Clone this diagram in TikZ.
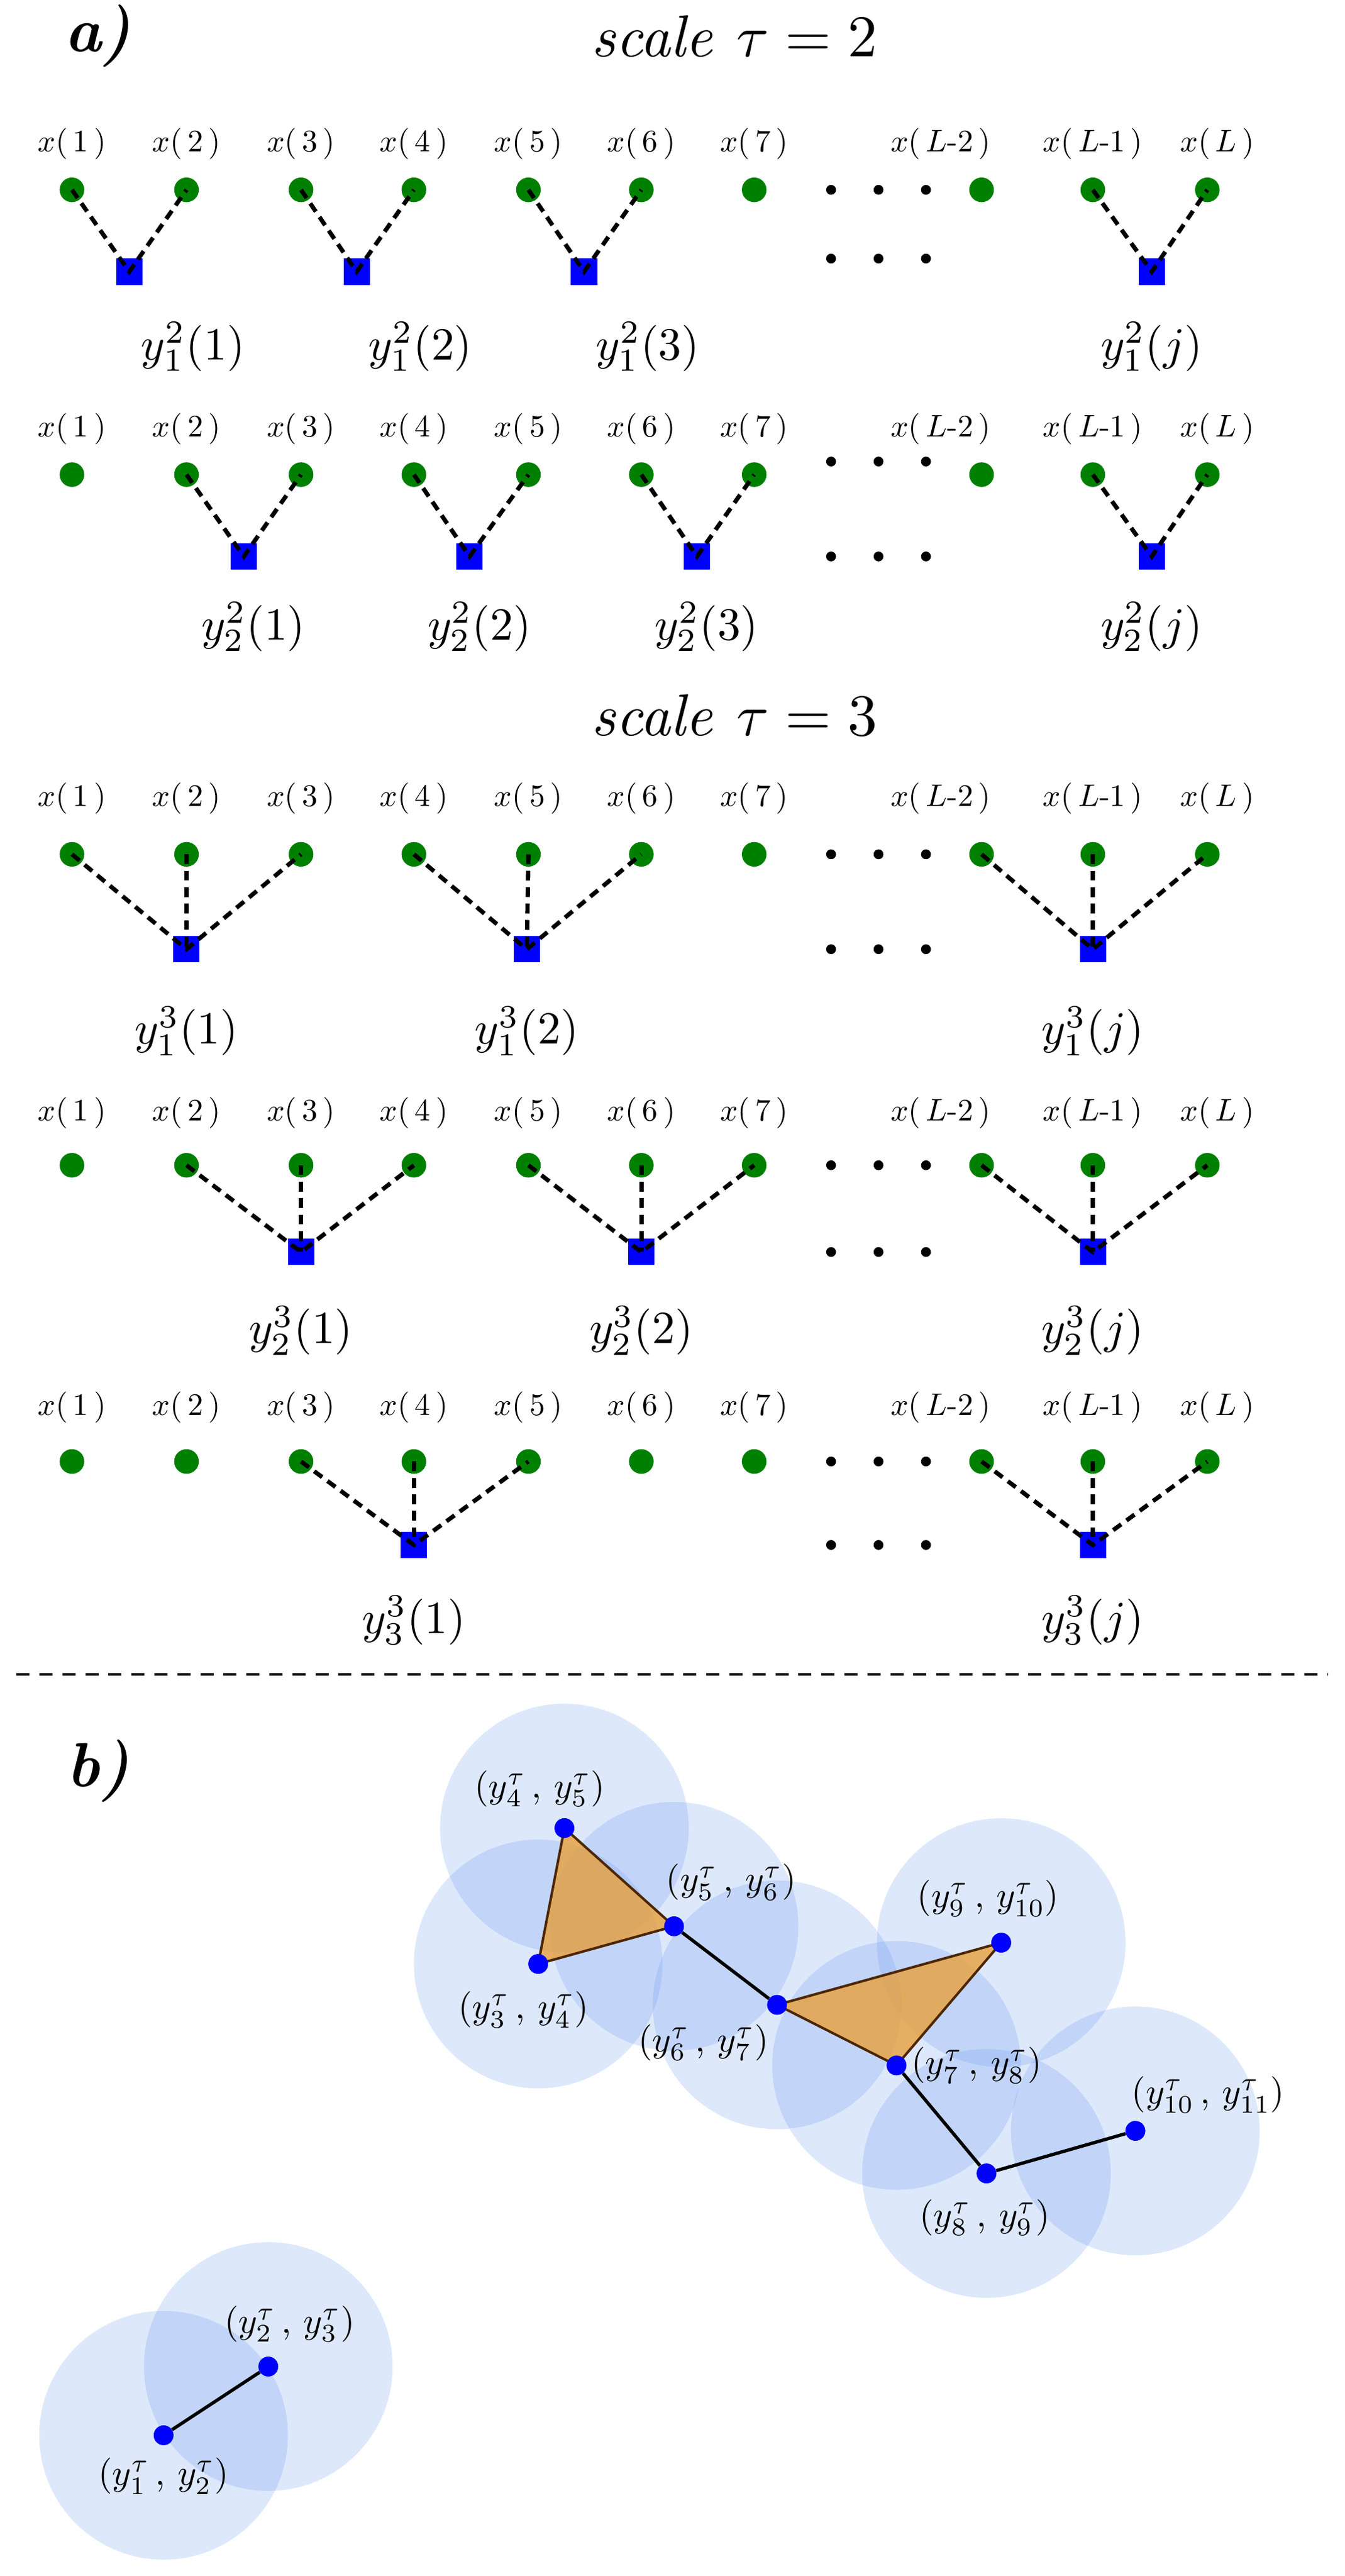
\documentclass[tikz,border=0pt]{standalone}
\usepackage{amsmath}
\begin{document}
\begin{tikzpicture}[x=0.35mm,y=-0.35mm,
 g/.style={circle,fill=green!50!black,inner sep=0,minimum size=15},
 sq/.style={rectangle,fill=blue,inner sep=0,minimum size=16},
 xl/.style={font=\normalsize,scale=1.9},
 yl/.style={font=\normalsize,scale=2.8},
 con/.style={line width=2.6pt,dash pattern=on 6pt off 4pt},
 ed/.style={circle,fill=black,inner sep=0,minimum size=6},
 bp/.style={circle,fill=blue,inner sep=0,minimum size=12},
 bl/.style={font=\normalsize,scale=2.2},
 ttl/.style={font=\normalsize,scale=3.6},
 lab/.style={font=\normalsize\bfseries\itshape,scale=3.8},
 halo/.style={fill={rgb,255:red,100;green,149;blue,237},opacity=0.22},
 tri/.style={fill={rgb,255:red,232;green,160;blue,60},fill opacity=0.8,draw=black!70!orange,line width=1.5pt}]
\useasboundingbox (0,0) rectangle (822,1574);
\node[lab] (ta) at (60,22) {a)};
\node[ttl] (t2) at (449,22) {$\mathit{scale}\ \tau=2$};
\node[ttl] (t3) at (449,437) {$\mathit{scale}\ \tau=3$};
\foreach \r/\ly/\dy in {r1/88/116,r2/262/290,r3/488/522,r4/680/712,r5/860/893}{
 \foreach \i/\xx in {1/44,2/114,3/184,4/253,5/323,6/392,7/461}{
  \node[g] (\r-\i) at (\xx,\dy) {};
  \node[xl] (\r-l\i) at (\xx,\ly) {$x(\,\i\,)$};
 }
 \node[g] (\r-a) at (600,\dy) {};
 \node[g] (\r-b) at (668,\dy) {};
 \node[g] (\r-c) at (738,\dy) {};
 \node[xl] (\r-la) at (575,\ly) {$x(\,L\text{-}2\,)$};
 \node[xl] (\r-lb) at (668,\ly) {$x(\,L\text{-}1\,)$};
 \node[xl] (\r-lc) at (744,\ly) {$x(\,L\,)$};
}
\foreach \n/\ya/\yb in {e1/116/158,e2/282/340,e3/522/580,e4/712/765,e5/893/944}{
 \foreach \k/\xx in {1/508,2/537,3/566}{
  \node[ed] (\n a\k) at (\xx,\ya) {};
  \node[ed] (\n b\k) at (\xx,\yb) {};
 }
}
\foreach \s/\xx/\a/\b/\t in {1/79/1/2/1,2/218/3/4/2,3/357/5/6/3}{
 \node[sq] (s1-\s) at (\xx,166) {};
 \draw[con] (r1-\a.center) -- (s1-\s.center) -- (r1-\b.center);
 \node[yl] (y1-\s) at (\xx+39,212) {$y_1^2(\t)$};
}
\node[sq] (s1-j) at (704,166) {};
\draw[con] (r1-b.center) -- (s1-j.center) -- (r1-c.center);
\node[yl] (y1-j) at (704,212) {$y_1^2(j)$};
\foreach \s/\xx/\a/\b in {1/149/2/3,2/287/4/5,3/426/6/7}{
 \node[sq] (s2-\s) at (\xx,340) {};
 \draw[con] (r2-\a.center) -- (s2-\s.center) -- (r2-\b.center);
 \node[yl] (y2-\s) at (\xx+6,383) {$y_2^2(\s)$};
}
\node[sq] (s2-j) at (704,340) {};
\draw[con] (r2-b.center) -- (s2-j.center) -- (r2-c.center);
\node[yl] (y2-j) at (704,383) {$y_2^2(j)$};
\foreach \s/\xx/\a/\b/\c in {1/114/1/2/3,2/322/4/5/6,j/668/a/b/c}{
 \node[sq] (s3-\s) at (\xx,580) {};
 \draw[con] (r3-\a.center) -- (s3-\s.center) -- (r3-\c.center);
 \draw[con] (r3-\b.center) -- (s3-\s.center);
 \node[yl] (y3-\s) at (\xx,630) {$y_1^3(\s)$};
}
\foreach \s/\xx/\a/\b/\c in {1/184/2/3/4,2/392/5/6/7,j/668/a/b/c}{
 \node[sq] (s4-\s) at (\xx,765) {};
 \draw[con] (r4-\a.center) -- (s4-\s.center) -- (r4-\c.center);
 \draw[con] (r4-\b.center) -- (s4-\s.center);
 \node[yl] (y4-\s) at (\xx,813) {$y_2^3(\s)$};
}
\foreach \s/\xx/\a/\b/\c in {1/253/3/4/5,j/668/a/b/c}{
 \node[sq] (s5-\s) at (\xx,944) {};
 \draw[con] (r5-\a.center) -- (s5-\s.center) -- (r5-\c.center);
 \draw[con] (r5-\b.center) -- (s5-\s.center);
 \node[yl] (y5-\s) at (\xx,990) {$y_3^3(\s)$};
}
\coordinate (d1) at (10,1023); \coordinate (d2) at (812,1023);
\draw[line width=1.5pt,dash pattern=on 8pt off 6pt] (d1) -- (d2);
\node[lab] (tb) at (60,1082) {b)};
\foreach \n/\xx/\yy in {p45/345/1117,p56/412/1177,p34/329/1200,p67/475/1225,p78/548/1262,p910/612/1187,p89/603/1328,p1011/694/1302,p23/164/1446,p12/100/1488}{
 \fill[halo] (\xx,\yy) circle (76);
}
\foreach \n/\xx/\yy in {p45/345/1117,p56/412/1177,p34/329/1200,p67/475/1225,p78/548/1262,p910/612/1187,p89/603/1328,p1011/694/1302,p23/164/1446,p12/100/1488}{
 \node[bp] (\n) at (\xx,\yy) {};
}
\draw[tri] (p45.center) -- (p56.center) -- (p34.center) -- cycle;
\draw[tri] (p67.center) -- (p910.center) -- (p78.center) -- cycle;
\draw[line width=2pt] (p56) -- (p67) (p78) -- (p89) -- (p1011) (p12) -- (p23);
\foreach \n in {p45,p56,p34,p67,p78,p910,p89,p1011,p23,p12}{\node[bp] at (\n) {};}
\node[bl] (l45) at (330,1093) {$(y_4^\tau\,,\,y_5^\tau)$};
\node[bl] (l56) at (447,1150) {$(y_5^\tau\,,\,y_6^\tau)$};
\node[bl] (l34) at (320,1228) {$(y_3^\tau\,,\,y_4^\tau)$};
\node[bl] (l67) at (430,1248) {$(y_6^\tau\,,\,y_7^\tau)$};
\node[bl] (l78) at (597,1262) {$(y_7^\tau\,,\,y_8^\tau)$};
\node[bl] (l910) at (604,1160) {$(y_9^\tau\,,\,y_{10}^\tau)$};
\node[bl] (l89) at (602,1355) {$(y_8^\tau\,,\,y_9^\tau)$};
\node[bl,anchor=west] (l1011) at (684,1280) {$(y_{10}^\tau\,,\,y_{11}^\tau)$};
\node[bl] (l23) at (177,1420) {$(y_2^\tau\,,\,y_3^\tau)$};
\node[bl] (l12) at (100,1513) {$(y_1^\tau\,,\,y_2^\tau)$};
\end{tikzpicture}
\end{document}
